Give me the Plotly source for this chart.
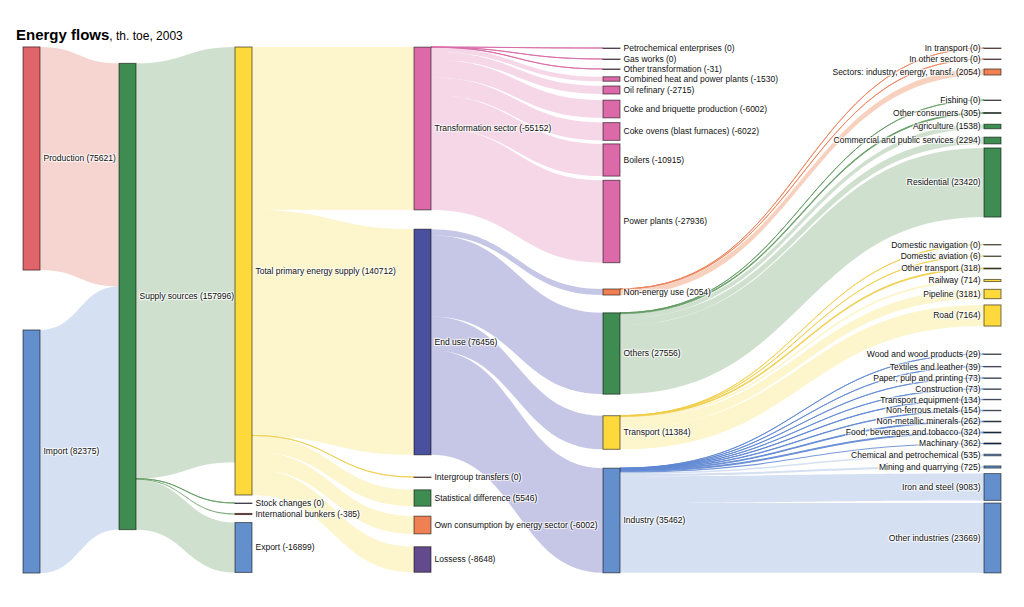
import plotly.graph_objects as go

# ---------------- data (th. toe, 2003) ----------------
source_names = ["Production", "Import"]
source_values = [75621, 82375]

supply_name = "Supply sources"
supply_value = 157996

tpes_names = ["Total primary energy supply", "Stock changes", "International bunkers", "Export"]
tpes_values = [140712, 0, -385, -16899]

use_names = ["Transformation sector", "End use", "Intergroup transfers",
             "Statistical difference", "Own consumption by energy sector", "Lossess"]
use_values = [-55152, 76456, 0, 5546, -6002, -8648]

transf_names = ["Petrochemical enterprises", "Gas works", "Other transformation",
                "Combined heat and power plants", "Oil refinary", "Coke and briquette production",
                "Coke ovens (blast furnaces)", "Boilers", "Power plants"]
transf_values = [0, 0, -31, -1530, -2715, -6002, -6022, -10915, -27936]

enduse_names = ["Non-energy use", "Others", "Transport", "Industry"]
enduse_values = [2054, 27556, 11384, 35462]

nonenergy_names = ["In transport", "In other sectors", "Sectors: industry, energy, transf."]
nonenergy_values = [0, 0, 2054]

others_names = ["Fishing", "Other consumers", "Agriculture", "Commercial and public services", "Residential"]
others_values = [0, 305, 1538, 2294, 23420]

transport_names = ["Domestic navigation", "Domestic aviation", "Other transport", "Railway", "Pipeline", "Road"]
transport_values = [0, 6, 318, 714, 3181, 7164]

industry_names = ["Wood and wood products", "Textiles and leather", "Paper, pulp and printing",
                  "Construction", "Transport equipment", "Non-ferrous metals", "Non-metallic minerals",
                  "Food, beverages and tobacco", "Machinary", "Chemical and petrochemical",
                  "Mining and quarrying", "Iron and steel", "Other industries"]
industry_values = [29, 39, 73, 73, 134, 154, 262, 324, 362, 535, 725, 9083, 23669]

# ---------------- layout (pixel centres) ----------------
W, H = 1024, 607
L, R, T, B = 23, 23, 47, 34
PW, PH = W - L - R, H - T - B
col_px = [31.5, 127.5, 243.5, 422.5, 611.5, 992.5]
y_src = [158.5, 451.5]
y_sup = [296.5]
y_tpes = [271, 503, 514, 547.5]
y_use = [128.5, 342, 477, 498, 525, 559.5]
y_transf = [48, 59, 69, 79, 90, 109, 131.5, 160, 221.5]
y_enduse = [292, 353.5, 432.5, 520.5]
y_nonen = [48, 59, 72]
y_others = [100, 113, 126.5, 140.5, 182.5]
y_transp = [244.5, 256, 268.5, 280.5, 294, 315.5]
y_ind = [354, 366.5, 378, 389, 399.5, 410.5, 421.5, 432.5, 443.5, 455, 467, 487, 538]

# node fill colours
RED = "#e0646a"
BLUE = "#6390cc"
GREEN = "#3f8c52"
YELLOW = "#fdd93c"
PINK = "#dc6aa8"
NAVY = "#4a4f9e"
ORANGE = "#ef8053"
PURPLE = "#624a8c"
DRED = "#9a3020"
MAROON = "#7a1f50"
DGREEN = "#1d5229"
OLIVE = "#8a7526"
DBLUE = "#1f4e94"
DNAVY = "#1c1f5e"
BROWN = "#8e3414"

# link colours: (band, hairline)
LINK = {
    "red": ("rgba(236,160,150,0.45)", "rgba(225,110,100,0.9)"),
    "blue": ("rgba(150,178,226,0.40)", "rgba(95,135,210,0.85)"),
    "green": ("rgba(140,180,140,0.42)", "rgba(100,155,100,0.85)"),
    "yellow": ("rgba(250,225,110,0.35)", "rgba(240,205,70,0.8)"),
    "pink": ("rgba(225,140,185,0.35)", "rgba(215,105,165,0.85)"),
    "navy": ("rgba(120,120,195,0.42)", "rgba(90,90,180,0.85)"),
    "orange": ("rgba(240,150,110,0.45)", "rgba(235,130,90,0.85)"),
}

labels, colors, xs, ys, vals = [], [], [], [], []


def add_node(name, value, col, ypx, color):
    labels.append(f"{name} ({value})")
    colors.append(color)
    xs.append(max((col_px[col] - L) / PW, 1e-4))
    ys.append(max((ypx - T) / PH, 1e-4))
    vals.append(value)
    return len(labels) - 1


def node_colors(values, fill, dark):
    return [fill if abs(v) >= 400 else dark for v in values]


src = [add_node(n, v, 0, y, c) for n, v, y, c in zip(source_names, source_values, y_src, [RED, BLUE])]
sup = add_node(supply_name, supply_value, 1, y_sup[0], GREEN)
tpes = [add_node(n, v, 2, y, c) for n, v, y, c in
        zip(tpes_names, tpes_values, y_tpes, [YELLOW, DNAVY, DRED, BLUE])]
use = [add_node(n, v, 3, y, c) for n, v, y, c in
       zip(use_names, use_values, y_use, [PINK, NAVY, DRED, GREEN, ORANGE, PURPLE])]
transf = [add_node(n, v, 4, y, c) for n, v, y, c in
          zip(transf_names, transf_values, y_transf, node_colors(transf_values, PINK, MAROON))]
enduse = [add_node(n, v, 4, y, c) for n, v, y, c in
          zip(enduse_names, enduse_values, y_enduse, [ORANGE, GREEN, YELLOW, BLUE])]
nonen = [add_node(n, v, 5, y, c) for n, v, y, c in
         zip(nonenergy_names, nonenergy_values, y_nonen, node_colors(nonenergy_values, ORANGE, BROWN))]
others = [add_node(n, v, 5, y, c) for n, v, y, c in
          zip(others_names, others_values, y_others, node_colors(others_values, GREEN, DGREEN))]
transp = [add_node(n, v, 5, y, c) for n, v, y, c in
          zip(transport_names, transport_values, y_transp, node_colors(transport_values, YELLOW, OLIVE))]
ind = [add_node(n, v, 5, y, c) for n, v, y, c in
       zip(industry_names, industry_values, y_ind, node_colors(industry_values, BLUE, DBLUE))]

ls, lt, lv, lc = [], [], [], []
EPS = 1e-3  # zero flows drawn as hairlines


def add_link(s, t, value, key):
    ls.append(s)
    lt.append(t)
    lv.append(max(abs(value), EPS))
    lc.append(LINK[key][0] if abs(value) >= 400 else LINK[key][1])


def add_links(s, targets, key):
    for t in targets:
        add_link(s, t, vals[t], key)


add_link(src[0], sup, source_values[0], "red")
add_link(src[1], sup, source_values[1], "blue")
add_links(sup, tpes, "green")
add_links(tpes[0], use, "yellow")
add_links(use[0], transf, "pink")
add_links(use[1], enduse, "navy")
add_links(enduse[0], nonen, "orange")
add_links(enduse[1], others, "green")
add_links(enduse[2], transp, "yellow")
add_links(enduse[3], ind, "blue")

fig = go.Figure(go.Sankey(
    arrangement="fixed",
    valueformat="d",
    textfont=dict(family="Liberation Sans, Arial, sans-serif", size=8.5, color="#111111"),
    node=dict(
        label=labels, color=colors, x=xs, y=ys, pad=9, thickness=17, align="left",
        line=dict(color="rgba(0,0,0,0.55)", width=1),
    ),
    link=dict(source=ls, target=lt, value=lv, color=lc,
              line=dict(color="rgba(0,0,0,0)", width=0)),
))

fig.update_layout(
    width=W, height=H,
    margin=dict(l=L, r=R, t=T, b=B),
    paper_bgcolor="white",
    title=dict(
        text="<b>Energy flows</b><span style='font-size:12px'>, th. toe, 2003</span>",
        font=dict(family="Liberation Sans, Arial, sans-serif", size=15, color="#000000"),
        x=16 / W, xanchor="left", xref="container",
        y=1 - 35 / H, yanchor="middle", yref="container",
    ),
)

fig.write_html("out.html", config={"displayModeBar": False},
               post_script="document.body.style.margin='0';")
